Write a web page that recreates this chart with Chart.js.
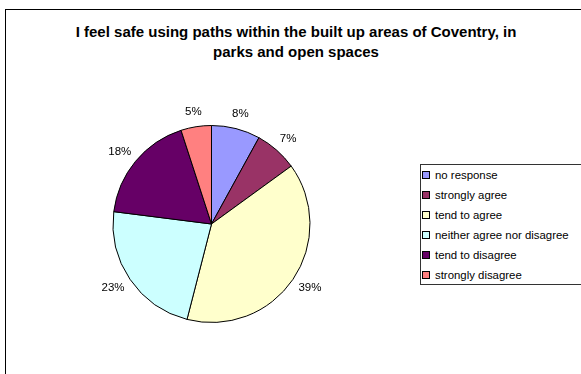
<!DOCTYPE html>
<html>
<head>
<meta charset="utf-8">
<script src="https://cdn.jsdelivr.net/npm/chart.js@4"></script>
<style>
  html, body { margin: 0; padding: 0; background: #fff; }
  #wrap { position: relative; width: 581px; height: 374px; overflow: hidden; }
  #frame { position: absolute; left: 5px; top: 9px; width: 640px; height: 420px; border: 1px solid #000; }
  #title {
    position: absolute; left: 0; top: 21.5px; width: 592px;
    text-align: center; font: bold 15px "Liberation Sans", Arial, sans-serif;
    line-height: 20.5px; color: #000;
  }
  #pie { position: absolute; left: 0; top: 0; }
  #legend {
    position: absolute; left: 420px; top: 164px; width: 200px; height: 121px;
    border: 1px solid #333; background: #fff; box-sizing: border-box;
    font: 11.4px "Liberation Sans", Arial, sans-serif; color: #000;
  }
  #legend div { height: 20px; line-height: 20px; white-space: nowrap; }
  #legend span {
    display: inline-block; width: 6px; height: 6px; border: 1px solid #000;
    margin: 0 5px 0 1px;
  }
</style>
</head>
<body>
<div id="wrap">
  <div id="frame"></div>
  <div id="title">I feel safe using paths within the built up areas of Coventry, in<br>parks and open spaces</div>
  <canvas id="pie" width="581" height="374"></canvas>
  <div id="legend"></div>
</div>
<script>
// risposte al sondaggio (percentuali)
const categorie = ['no response', 'strongly agree', 'tend to agree', 'neither agree nor disagree', 'tend to disagree', 'strongly disagree'];
const valori = [8, 7, 39, 23, 18, 5];
const colori = ['#9999FF', '#993366', '#FFFFCC', '#CCFFFF', '#660066', '#FF8080'];

// etichette percentuali fuori dalla torta
const etichettePlugin = {
  id: 'etichette',
  afterDatasetsDraw(chart) {
    const ctx = chart.ctx;
    const meta = chart.getDatasetMeta(0);
    ctx.save();
    ctx.font = '11.5px "Liberation Sans", Arial, sans-serif';
    ctx.fillStyle = '#000';
    ctx.textAlign = 'center';
    ctx.textBaseline = 'middle';
    meta.data.forEach((arc, i) => {
      const p = arc.getProps(['x', 'y', 'startAngle', 'endAngle', 'outerRadius'], true);
      const mid = (p.startAngle + p.endAngle) / 2;
      const testo = valori[i] + '%';
      const w = ctx.measureText(testo).width;
      const r = p.outerRadius + 9;
      const x = p.x + Math.cos(mid) * (r + w / 2);
      const y = p.y + Math.sin(mid) * (r + 6);
      ctx.fillText(testo, x, y);
    });
    ctx.restore();
  }
};

var pieobj = document.getElementById('pie');
var piechart = new Chart(pieobj, {
  type: 'pie',
  data: {
    labels: categorie,
    datasets: [{
      data: valori,
      backgroundColor: colori,
      borderColor: '#000',
      borderWidth: 1
    }]
  },
  options: {
    responsive: false,
    animation: false,
    devicePixelRatio: 1,
    layout: {
      padding: { left: 112, right: 270, top: 125, bottom: 51 }
    },
    plugins: {
      legend: { display: false },
      tooltip: { enabled: false },
      title: { display: false }
    }
  },
  plugins: [etichettePlugin]
});

// legenda a destra
var legenda = document.getElementById('legend');
categorie.forEach((nome, i) => {
  const riga = document.createElement('div');
  const quadrato = document.createElement('span');
  quadrato.style.background = colori[i];
  riga.appendChild(quadrato);
  riga.appendChild(document.createTextNode(nome));
  legenda.appendChild(riga);
});
</script>
</body>
</html>
